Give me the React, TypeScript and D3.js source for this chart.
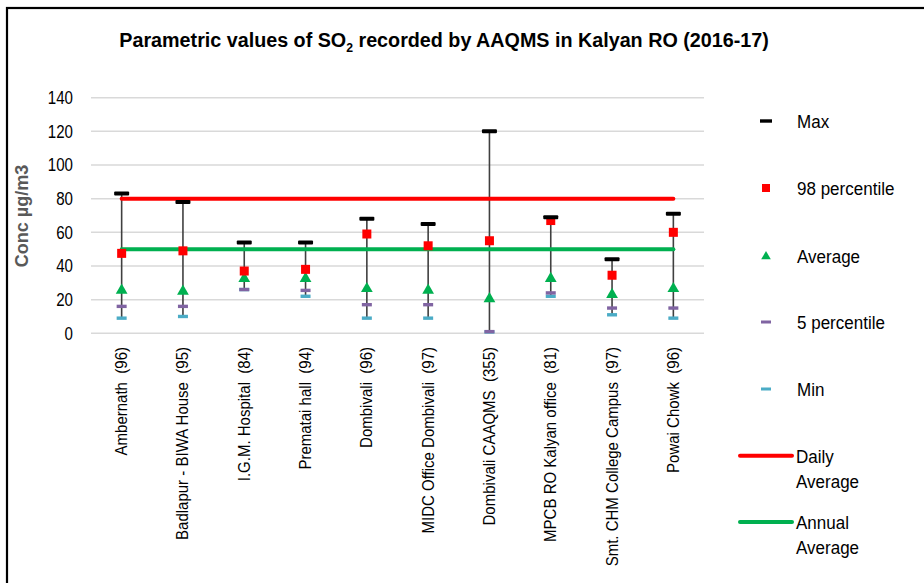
import React from "react";
import * as d3 from "d3";

const categories = [
  "Ambernath\u00A0\u00A0(96)",
  "Badlapur - BIWA House\u00A0\u00A0(95)",
  "I.G.M. Hospital\u00A0\u00A0(84)",
  "Prematai hall\u00A0\u00A0(94)",
  "Dombivali\u00A0\u00A0(96)",
  "MIDC Office Dombivali\u00A0\u00A0(97)",
  "Dombivali CAAQMS\u00A0\u00A0(355)",
  "MPCB RO Kalyan office\u00A0\u00A0(81)",
  "Smt. CHM College Campus\u00A0\u00A0(97)",
  "Powai Chowk\u00A0\u00A0(96)",
];
const maxVals = [83, 78, 54, 54, 68, 65, 120, 69, 44, 71];
const p98Vals = [47.5, 49, 37, 38, 59, 52, 55, 67, 34.5, 60];
const avgVals = [25.5, 25, 32.5, 32.5, 26.5, 25.5, 20.5, 32.5, 23, 26.5];
const p5Vals = [16, 16, 26, 25.5, 17, 17, 1, 24, 15, 15];
const minVals = [9, 10, 26, 22, 9, 9, 0.8, 22, 11, 9];
const dailyStd = 80;
const annualStd = 50;
const yTicks = [0, 20, 40, 60, 80, 100, 120, 140];

const FONT = "'Liberation Sans', Arial, sans-serif";

function NText(props: {
  x: number; y: number; sx?: number; rot?: number; size: number; anchor?: string;
  weight?: string; fill?: string; dy?: string; children: React.ReactNode;
}) {
  const { x, y, sx = 0.86, rot = 0, size, anchor = "start", weight = "normal", fill = "#000", dy = "0", children } = props;
  return (
    <text
      transform={`translate(${x},${y}) rotate(${rot}) scale(${sx},1)`}
      textAnchor={anchor}
      fontSize={size}
      fontWeight={weight}
      fill={fill}
      dy={dy}
    >
      {children}
    </text>
  );
}

export default function App() {
  const W = 924, H = 583;
  const x = d3.scaleBand<string>().domain(categories).range([91, 704]);
  const y = d3.scaleLinear().domain([0, 140]).range([333.3, 97.7]);
  const cx = (i: number) => (x(categories[i]) as number) + x.bandwidth() / 2;
  const x0 = cx(0), x1 = cx(categories.length - 1);
  const tri = d3.symbol().type(d3.symbolTriangle).size(60)() as string;
  const triLegend = d3.symbol().type(d3.symbolTriangle).size(40)() as string;

  const legendX = 766, textX = 797;
  const legendItems = [
    { label: "Max", y: 121, kind: "max" },
    { label: "98 percentile", y: 188, kind: "p98" },
    { label: "Average", y: 256.5, kind: "avg" },
    { label: "5 percentile", y: 322, kind: "p5" },
    { label: "Min", y: 389, kind: "min" },
  ];

  return (
    <svg width={W} height={H} style={{ position: "absolute", left: 0, top: 0, background: "#fff" }} fontFamily={FONT}>
      <rect x={7} y={8} width={W + 10} height={H + 10} fill="#fff" stroke="#000" strokeWidth={2.2} />
      <text transform="translate(444,47) scale(0.94,1)" textAnchor="middle" fontSize={21} fontWeight="bold" fill="#000">
        Parametric values of SO
        <tspan fontSize={13} dy={5}>2</tspan>
        <tspan dy={-5}> recorded by AAQMS in Kalyan RO (2016-17)</tspan>
      </text>
      {yTicks.map((t) => (
        <g key={t}>
          <line x1={91} x2={704} y1={y(t)} y2={y(t)} stroke="#d9d9d9" strokeWidth={1.5} />
          <NText x={73} y={y(t)} dy="0.36em" anchor="end" size={18} sx={0.84}>{t}</NText>
        </g>
      ))}
      <NText x={28} y={216} rot={-90} anchor="middle" size={19} sx={0.95} weight="bold" fill="#595959">
        Conc µg/m3
      </NText>
      {categories.map((c, i) => (
        <NText key={c} x={cx(i) + 5.5} y={347} rot={-90} anchor="end" size={16.5} sx={0.91}>
          {c}
        </NText>
      ))}
      {categories.map((c, i) => (
        <line key={c} x1={cx(i)} x2={cx(i)} y1={y(minVals[i])} y2={y(maxVals[i])} stroke="#404040" strokeWidth={1.6} />
      ))}
      <line x1={x0} x2={x1} y1={y(dailyStd)} y2={y(dailyStd)} stroke="#ff0000" strokeWidth={4} strokeLinecap="round" />
      <line x1={x0} x2={x1} y1={y(annualStd)} y2={y(annualStd)} stroke="#00b050" strokeWidth={4} strokeLinecap="round" />
      {categories.map((c, i) => (
        <g key={c}>
          <rect x={cx(i) - 5} y={y(minVals[i]) - 1.7} width={10} height={3.4} fill="#4bacc6" />
          <rect x={cx(i) - 5} y={y(p5Vals[i]) - 1.7} width={10} height={3.4} fill="#8064a2" />
          <path d={tri} transform={`translate(${cx(i)},${y(avgVals[i])})`} fill="#00b050" />
          <rect x={cx(i) - 4.5} y={y(p98Vals[i]) - 4.5} width={9} height={9} fill="#ff0000" />
          <rect x={cx(i) - 7.5} y={y(maxVals[i]) - 2} width={15} height={4} rx={1} fill="#000" />
        </g>
      ))}
      {legendItems.map((it) => (
        <g key={it.label}>
          {it.kind === "max" && <rect x={legendX - 6} y={it.y - 1.7} width={12} height={3.4} fill="#000" />}
          {it.kind === "p98" && <rect x={legendX - 4} y={it.y - 4} width={8} height={8} fill="#ff0000" />}
          {it.kind === "avg" && <path d={triLegend} transform={`translate(${legendX},${it.y})`} fill="#00b050" />}
          {it.kind === "p5" && <rect x={legendX - 5} y={it.y - 1.5} width={10} height={3} fill="#8064a2" />}
          {it.kind === "min" && <rect x={legendX - 5} y={it.y - 1.5} width={10} height={3} fill="#4bacc6" />}
          <NText x={textX} y={it.y} dy="0.36em" size={18.5} sx={0.92}>{it.label}</NText>
        </g>
      ))}
      <line x1={740} x2={792} y1={455.7} y2={455.7} stroke="#ff0000" strokeWidth={4} strokeLinecap="round" />
      <NText x={796} y={456} dy="0.36em" size={18.5} sx={0.92}>Daily</NText>
      <NText x={796} y={481} dy="0.36em" size={18.5} sx={0.92}>Average</NText>
      <line x1={740} x2={792} y1={522} y2={522} stroke="#00b050" strokeWidth={4} strokeLinecap="round" />
      <NText x={796} y={522} dy="0.36em" size={18.5} sx={0.92}>Annual</NText>
      <NText x={796} y={547} dy="0.36em" size={18.5} sx={0.92}>Average</NText>
    </svg>
  );
}
